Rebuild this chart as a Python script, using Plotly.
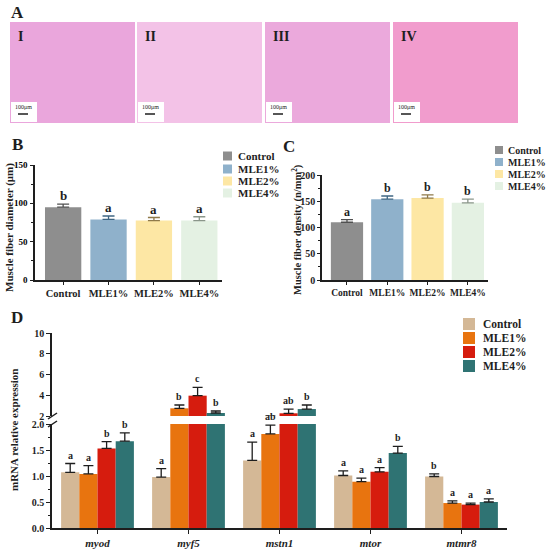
import plotly.graph_objects as go

W, H = 550, 551
SERIF = "Liberation Serif"
INK = "#1e1e1e"

# ── Panel B / C data ──────────────────────────────────────────────────────────
groups = ["Control", "MLE1%", "MLE2%", "MLE4%"]
bc_colors = ["#8e8e8e", "#8fb1cb", "#fde7a4", "#e4f1e3"]
bc_err_colors = ["#505050", "#3f6683", "#8f7a4a", "#8a968a"]

diameter = [95, 79, 77.5, 77.5]
diameter_err = [4, 4.5, 4, 5]
diameter_sig = ["b", "a", "a", "a"]

density = [110, 154, 156, 147]
density_err = [5, 6, 6, 7]
density_sig = ["a", "b", "b", "b"]

# ── Panel D data ──────────────────────────────────────────────────────────────
genes = ["myod", "myf5", "mstn1", "mtor", "mtmr8"]
d_colors = ["#d4b896", "#e8740f", "#d61c0e", "#2f7373"]

ctrl_expr = [1.07, 0.98, 1.30, 1.01, 0.99]
ctrl_err = [0.17, 0.16, 0.35, 0.09, 0.05]
ctrl_sig = ["a", "a", "a", "a", "b"]

mle1_expr = [1.04, 2.74, 1.81, 0.89, 0.48]
mle1_err = [0.16, 0.32, 0.17, 0.07, 0.04]
mle1_sig = ["a", "b", "ab", "a", "a"]

mle2_expr = [1.53, 3.96, 2.26, 1.08, 0.45]
mle2_err = [0.13, 0.80, 0.41, 0.08, 0.03]
mle2_sig = ["b", "c", "ab", "a", "a"]

mle4_expr = [1.67, 2.29, 2.67, 1.44, 0.50]
mle4_err = [0.16, 0.19, 0.39, 0.13, 0.06]
mle4_sig = ["b", "b", "b", "b", "a"]

BREAK = 2.0
upper_ticks = [2, 4, 6, 8, 10]
diam_ticks = [0, 50, 100, 150]

# panel A section labels
section_labels = ["I", "II", "III", "IV"]
section_fill = ["#eaa6dc", "#f3c2e7", "#eba9dc", "#f19ccd"]


def px(x):
    return x / W


def py(y):
    return 1 - y / H


def font(size, color=INK, italic=False):
    return dict(family=SERIF, size=size, color=color, weight="bold",
                style="italic" if italic else "normal")


def label(text, x, y, size, xanchor="center", angle=0, **kw):
    # paper-anchored text placed by pixel position (centre-middle unless told)
    return dict(x=px(x), y=py(y), xref="paper", yref="paper", text=text,
                showarrow=False, xanchor=xanchor, yanchor="middle",
                textangle=angle, font=kw.pop("fnt", font(size)), **kw)


fig = go.Figure()
annotations = []
shapes = []

# ── Panel A: section images (drawn as tinted tiles) ───────────────────────────
tile_left = [10, 137, 265, 393]
for i, lab in enumerate(section_labels):
    x0 = tile_left[i]
    shapes.append(dict(type="rect", xref="paper", yref="paper",
                       x0=px(x0), x1=px(x0 + 125), y0=py(123), y1=py(22),
                       fillcolor=section_fill[i], line=dict(width=0), layer="below"))
    # scale-bar box
    shapes.append(dict(type="rect", xref="paper", yref="paper",
                       x0=px(x0 + 1), x1=px(x0 + 27), y0=py(122), y1=py(102),
                       fillcolor="white", line=dict(width=0)))
    shapes.append(dict(type="line", xref="paper", yref="paper",
                       x0=px(x0 + 8), x1=px(x0 + 18), y0=py(114), y1=py(114),
                       line=dict(color=INK, width=1.5)))
    annotations.append(label("100μm", x0 + 13, 107, 6,
                             fnt=dict(family=SERIF, size=6, color=INK)))
    annotations.append(label(lab, x0 + 6, 36, 14, xanchor="left"))

# ── Panels B and C ────────────────────────────────────────────────────────────
for i, g in enumerate(groups):
    fig.add_trace(go.Bar(
        x=[g], y=[diameter[i]], xaxis="x", yaxis="y", offsetgroup="b",
        marker=dict(color=bc_colors[i], line=dict(width=0)),
        error_y=dict(type="data", symmetric=False, array=[diameter_err[i]],
                     arrayminus=[0], color=bc_err_colors[i], thickness=1.3, width=6),
        showlegend=False,
    ))
    fig.add_trace(go.Bar(
        x=[g], y=[density[i]], xaxis="x2", yaxis="y2", offsetgroup="c",
        marker=dict(color=bc_colors[i], line=dict(width=0)),
        error_y=dict(type="data", symmetric=False, array=[density_err[i]],
                     arrayminus=[0], color=bc_err_colors[i], thickness=1.3, width=6),
        showlegend=False,
    ))
    annotations.append(dict(x=g, y=diameter[i] + diameter_err[i], xref="x", yref="y",
                            text=diameter_sig[i], showarrow=False, yanchor="bottom",
                            yshift=-1, font=font(13)))
    annotations.append(dict(x=g, y=density[i] + density_err[i], xref="x2", yref="y2",
                            text=density_sig[i], showarrow=False, yanchor="bottom",
                            yshift=-1, font=font(12)))

# ── Panel D: broken-axis grouped bars ─────────────────────────────────────────
d_series = [
    ("Control", ctrl_expr, ctrl_err, ctrl_sig),
    ("MLE1%", mle1_expr, mle1_err, mle1_sig),
    ("MLE2%", mle2_expr, mle2_err, mle2_sig),
    ("MLE4%", mle4_expr, mle4_err, mle4_sig),
]
offsets = [-0.3, -0.1, 0.1, 0.3]
for k, (name, vals, errs, sig) in enumerate(d_series):
    for ya in ["y5", "y6"]:
        fig.add_trace(go.Bar(
            x=genes, y=vals, name=name, xaxis="x3", yaxis=ya,
            marker=dict(color=d_colors[k], line=dict(width=0)),
            error_y=dict(type="data", symmetric=False, array=errs,
                         arrayminus=[0] * len(errs), color=INK, thickness=1.3, width=5),
            showlegend=False,
        ))
    for j in range(len(genes)):
        top = vals[j] + errs[j]
        annotations.append(dict(x=j + offsets[k], y=top, xref="x3",
                                yref="y6" if top > BREAK else "y5",
                                text=sig[j], showarrow=False, yanchor="bottom",
                                yshift=1, font=font(10)))

# broken axis marks
for yy in (419, 427):
    shapes.append(dict(type="line", xref="paper", yref="paper",
                       x0=px(48), x1=px(57), y0=py(yy), y1=py(yy - 6),
                       line=dict(color=INK, width=1.5)))

# ── Legends (drawn by hand to match the figure) ───────────────────────────────
def legend(x_sq, sq, x_txt, ys, colors, size):
    for n, yy in enumerate(ys):
        shapes.append(dict(type="rect", xref="paper", yref="paper",
                           x0=px(x_sq), x1=px(x_sq + sq),
                           y0=py(yy + sq / 2), y1=py(yy - sq / 2),
                           fillcolor=colors[n], line=dict(width=0)))
        annotations.append(label(groups[n], x_txt, yy, size, xanchor="left"))


legend(223, 9, 236, [156, 169, 181, 193], bc_colors, 11)
legend(495, 8, 506, [150, 162, 174, 186], bc_colors, 10)
legend(463, 12, 481, [324, 338, 352, 366], d_colors, 11.5)

# ── Panel letters and axis titles ─────────────────────────────────────────────
for lab, x, y in [("A", 17, 12), ("B", 17, 145), ("C", 289, 146), ("D", 17, 317)]:
    annotations.append(label(lab, x, y, 17))

annotations.append(label("Muscle fiber diameter (μm)", 10, 228, 11, angle=-90))
annotations.append(label("Muscle fiber density (n/mm<sup>2</sup>)", 297, 230, 10.5,
                         angle=-90))
annotations.append(label("mRNA relative expression", 14, 430, 11, angle=-90))

axis_common = dict(showline=True, linecolor=INK, linewidth=1.5, showgrid=False,
                   zeroline=False, ticks="outside", tickcolor=INK, tickwidth=1,
                   fixedrange=True, automargin=False)

fig.update_layout(
    width=W, height=H, autosize=False,
    margin=dict(l=0, r=0, t=0, b=0, autoexpand=False),
    paper_bgcolor="white", plot_bgcolor="white",
    barmode="group", bargap=0.2, bargroupgap=0,
    showlegend=False,
    xaxis=dict(axis_common, domain=[px(35), px(222)], anchor="y",
               range=[-0.62, 3.5], ticklen=3, tickfont=font(10.5)),
    yaxis=dict(axis_common, domain=[py(280), py(165)], anchor="x",
               range=[0, 150], tickvals=diam_ticks, ticklen=3,
               showticklabels=True, tickfont=font(9, color="#000000"),
               ticklabelstandoff=1,
               minor=dict(dtick=25, ticks="outside", ticklen=2, tickcolor=INK)),
    xaxis2=dict(axis_common, domain=[px(322), px(488)], anchor="y2",
                range=[-0.62, 3.5], ticklen=3, tickfont=font(9.5)),
    yaxis2=dict(axis_common, domain=[py(280), py(175)], anchor="x2",
                range=[0, 200], dtick=50, ticklen=3, tickfont=font(10),
                minor=dict(dtick=25, ticks="outside", ticklen=2, tickcolor=INK)),
    xaxis3=dict(axis_common, domain=[px(52), px(507)], anchor="y5",
                range=[-0.5, 4.5], ticklen=4, tickfont=font(11, italic=True),
                categoryorder="array", categoryarray=genes),
    yaxis5=dict(axis_common, domain=[py(528), py(424)], anchor="x3",
                range=[0, BREAK], dtick=0.5, tickformat=".1f", ticklen=4,
                tickfont=font(10),
                minor=dict(dtick=0.25, ticks="outside", ticklen=2, tickcolor=INK)),
    yaxis6=dict(axis_common, domain=[py(416), py(333)], anchor="x3",
                range=[BREAK, 10], tickvals=upper_ticks, ticklen=4,
                tickfont=font(10)),
    annotations=annotations,
    shapes=shapes,
)

fig.write_html("out.html", config={"displayModeBar": False},
               post_script="document.body.style.margin='0';"
                           "document.body.style.overflow='hidden';")
